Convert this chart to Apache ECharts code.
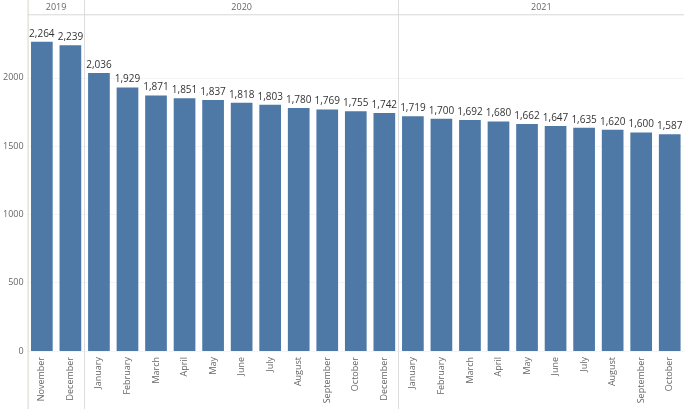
<!DOCTYPE html>
<html>
<head>
<meta charset="utf-8">
<script src="https://cdn.jsdelivr.net/npm/echarts@6/dist/echarts.min.js"></script>
<style>
html,body{margin:0;padding:0;background:#fff;}
#chart{width:684px;height:409px;}
</style>
</head>
<body>
<div id="chart"></div>
<script>
const months = ['November','December',
  'January','February','March','April','May','June','July','August','September','October','December',
  'January','February','March','April','May','June','July','August','September','October'];
const values = [2264,2239,
  2036,1929,1871,1851,1837,1818,1803,1780,1769,1755,1742,
  1719,1700,1692,1680,1662,1647,1635,1620,1600,1587];
const years = ['2019','2020','2021'];
const yearCounts = [2,11,10];
const yTicks = [0,500,1000,1500,2000];

const FONT = '"Open Sans", "Noto Sans", sans-serif';
const chart = echarts.init(document.getElementById('chart'), null, {renderer:'canvas'});
const option = {
  animation:false,
  grid:{left:27,right:0,top:15,bottom:58,containLabel:false},
  xAxis:{
    type:'category',
    data:months,
    axisLine:{show:false},
    axisTick:{show:false},
    axisLabel:{rotate:90,fontSize:9,color:'#666',fontFamily:FONT,margin:6,interval:0}
  },
  yAxis:{
    type:'value',
    min:0,max:2460,interval:500,
    axisLine:{show:false},
    axisTick:{show:false},
    splitLine:{lineStyle:{color:'#f4f4f4',width:1}},
    axisLabel:{fontSize:9,color:'#666',fontFamily:FONT,margin:4,showMaxLabel:false,
      formatter:function(v){return yTicks.indexOf(v)>=0?String(v):'';}}
  },
  series:[{
    type:'bar',
    data:values,
    barCategoryGap:'24%',
    itemStyle:{color:'#4e79a7'},
    label:{show:true,position:'top',distance:3,fontSize:10,color:'#333',fontFamily:FONT,
      formatter:function(p){return p.value.toLocaleString('en-US');}}
  }]
};
chart.setOption(option);

// Build the Tableau-style year header panes from the axis scale
const cx = months.map((m,i)=>chart.convertToPixel({xAxisIndex:0}, i));
const pitch = cx[1]-cx[0];
const leftEdge = cx[0]-pitch/2;
const rightEdge = cx[cx.length-1]+pitch/2;
const H = 409;
const graphics = [];
graphics.push({type:'line',shape:{x1:leftEdge+0.5,y1:0,x2:leftEdge+0.5,y2:H},style:{stroke:'#d8d5cc',lineWidth:1},silent:true});
graphics.push({type:'line',shape:{x1:leftEdge,y1:14.5,x2:684,y2:14.5},style:{stroke:'#e2e2e2',lineWidth:1},silent:true});
let idx = 0;
years.forEach((y,k)=>{
  const start = idx, end = idx + yearCounts[k] - 1;
  const x0 = start===0 ? leftEdge : (cx[start-1]+cx[start])/2;
  const x1 = end===cx.length-1 ? rightEdge : (cx[end]+cx[end+1])/2;
  if (start>0) {
    const xs = Math.round(x0)-0.5;
    graphics.push({type:'line',shape:{x1:xs,y1:0,x2:xs,y2:H},style:{stroke:'#dcdcdc',lineWidth:1},silent:true});
  }
  graphics.push({type:'text',x:(x0+x1)/2,y:7,style:{text:y,fill:'#666',fontSize:9,fontFamily:FONT,align:'center',verticalAlign:'middle'},silent:true});
  idx += yearCounts[k];
});
chart.setOption({graphic:graphics});
</script>
</body>
</html>
